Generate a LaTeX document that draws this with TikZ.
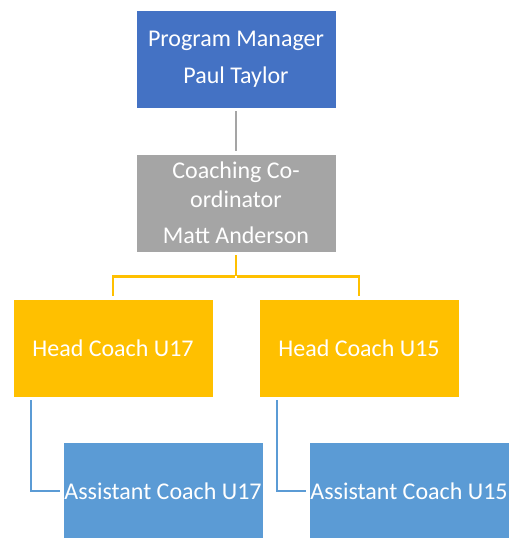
\documentclass[tikz,border=0pt]{standalone}
\usepackage{fontspec}
\setmainfont{Carlito}
\usetikzlibrary{positioning,calc}
\definecolor{pmBlue}{HTML}{4472C4}
\definecolor{ccGray}{HTML}{A5A5A5}
\definecolor{hcGold}{HTML}{FFC000}
\definecolor{acBlue}{HTML}{5B9BD5}
\tikzset{
  orgBox/.style={rectangle,draw=white,line width=0.4pt,minimum width=200pt,minimum height=98pt,
    inner sep=0pt,text=white,align=center,font=\fontsize{24}{28.5}\selectfont},
  pmBox/.style={orgBox,fill=pmBlue},
  ccBox/.style={orgBox,fill=ccGray},
  hcBox/.style={orgBox,fill=hcGold},
  acBox/.style={orgBox,fill=acBlue},
  link/.style={line width=2.2pt,shorten <=3pt,shorten >=3pt},
}
\begin{document}
\begin{tikzpicture}[x=1pt,y=-1pt]
\useasboundingbox (0,0) rectangle (509,538);

% ===== Boxes =====
\node[pmBox] (pm) at (236,59) {Program Manager\\[8pt]Paul Taylor};
\node[ccBox] (cc) at (236,203) {Coaching Co-\\ordinator\\[8pt]Matt Anderson};
\node[hcBox] (hc17) at (113,348) {Head Coach U17};
\node[hcBox] (hc15) at (359,348) {Head Coach U15};
\node[acBox] (ac17) at (163,491) {Assistant Coach U17};
\node[acBox] (ac15) at (409,491) {Assistant Coach U15};

% ===== Connectors =====
\draw[link,ccGray] (pm.south) -- (cc.south |- cc.north);
\coordinate (split) at ($(cc.south)+(0,24)$);
\draw[link,hcGold,shorten >=0pt,line width=2.6pt] (cc.south) -- (split);
\draw[link,hcGold,shorten <=0pt,line width=2.6pt] ($(split)+(-1.3,0)$) -| (hc17.north);
\draw[link,hcGold,shorten <=0pt,line width=2.6pt] ($(split)+(1.3,0)$) -| (hc15.north);
\coordinate (b17) at ($(hc17.south west)+(18,0)$);
\coordinate (b15) at ($(hc15.south west)+(18,0)$);
\draw[link,acBlue] (b17) |- (ac17.west);
\draw[link,acBlue] (b15) |- (ac15.west);

\end{tikzpicture}
\end{document}
